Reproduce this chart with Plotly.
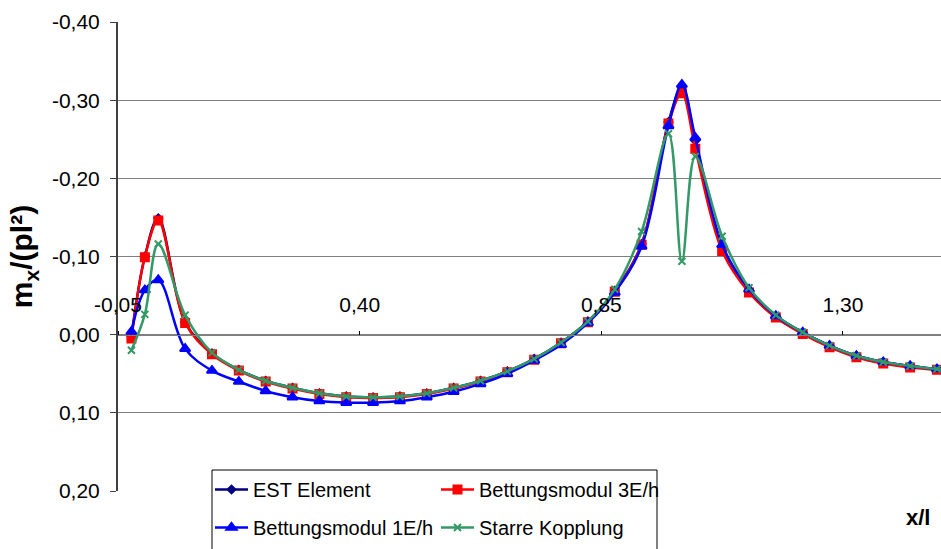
import plotly.graph_objects as go

x_vals = [-0.025, 0.0, 0.025, 0.075, 0.125, 0.175, 0.225, 0.275, 0.325, 0.375, 0.425,
          0.475, 0.525, 0.575, 0.625, 0.675, 0.725, 0.775, 0.825, 0.875, 0.925, 0.975,
          1.0, 1.025, 1.075, 1.125, 1.175, 1.225, 1.275, 1.325, 1.375, 1.425, 1.475, 1.525]

est_element = [0.002, -0.100, -0.149, -0.016, 0.024, 0.045, 0.059, 0.068, 0.075, 0.079, 0.080,
               0.079, 0.075, 0.068, 0.059, 0.047, 0.031, 0.010, -0.017, -0.056, -0.116, -0.272,
               -0.317, -0.248, -0.112, -0.057, -0.024, -0.003, 0.014, 0.027, 0.035, 0.040, 0.044, 0.046]

bett_3e = [0.005, -0.099, -0.146, -0.015, 0.025, 0.046, 0.060, 0.069, 0.076, 0.080, 0.081,
           0.080, 0.076, 0.069, 0.060, 0.048, 0.032, 0.011, -0.016, -0.055, -0.115, -0.270,
           -0.309, -0.238, -0.107, -0.054, -0.022, -0.001, 0.016, 0.029, 0.037, 0.042, 0.045, 0.047]

bett_1e = [-0.004, -0.057, -0.070, 0.018, 0.046, 0.060, 0.072, 0.080, 0.085, 0.087, 0.087,
           0.085, 0.080, 0.073, 0.063, 0.050, 0.033, 0.013, -0.015, -0.054, -0.113, -0.267,
           -0.320, -0.252, -0.115, -0.058, -0.024, -0.003, 0.014, 0.027, 0.035, 0.040, 0.044, 0.046]

starre = [0.020, -0.026, -0.116, -0.025, 0.023, 0.045, 0.059, 0.068, 0.075, 0.079, 0.080,
          0.079, 0.075, 0.068, 0.059, 0.047, 0.031, 0.010, -0.017, -0.058, -0.132, -0.257,
          -0.094, -0.228, -0.126, -0.060, -0.025, -0.003, 0.014, 0.027, 0.035, 0.040, 0.044, 0.046]

y_tickvals = [-0.40, -0.30, -0.20, -0.10, 0.00, 0.10, 0.20]
y_ticktext = ["-0,40", "-0,30", "-0,20", "-0,10", "0,00", "0,10", "0,20"]
x_tickvals = [-0.05, 0.40, 0.85, 1.30]
x_ticktext = ["-0,05", "0,40", "0,85", "1,30"]

FONT = "Liberation Sans, Arial, sans-serif"

series = [
    ("EST Element", est_element, "#000080", "diamond", 6, "legend"),
    ("Bettungsmodul 3E/h", bett_3e, "#FF0000", "square", 8, "legend"),
    ("Bettungsmodul 1E/h", bett_1e, "#0000FF", "triangle-up", 9, "legend2"),
    ("Starre Kopplung", starre, "#339966", "x-thin-open", 7, "legend2"),
]

fig = go.Figure()
for name, vals, color, sym, size, lg in series:
    fig.add_trace(go.Scatter(
        x=x_vals, y=vals, name=name, mode="lines+markers",
        line=dict(color=color, width=2.5, shape="spline", smoothing=1.0),
        marker=dict(symbol=sym, size=size, color=color,
                    line=dict(color=color, width=2)),
        legend=lg,
    ))

PW, PH, L, B = 823, 469, 118, 491

legend_common = dict(
    orientation="h", xref="paper", yref="paper", xanchor="left", yanchor="top",
    bgcolor="rgba(0,0,0,0)", borderwidth=0,
    font=dict(family=FONT, size=20, color="black"),
    entrywidth=178, entrywidthmode="pixels", itemwidth=33,
)

fig.update_layout(
    width=941, height=549,
    margin=dict(l=118, r=0, t=22, b=58, autoexpand=False),
    paper_bgcolor="white", plot_bgcolor="white",
    showlegend=True,
    legend=dict(x=(210 - L) / PW, y=(B - 470) / PH, **legend_common),
    legend2=dict(x=(210 - L) / PW, y=(B - 508) / PH, **legend_common),
    xaxis=dict(
        range=[-0.05, 1.4825], tickvals=x_tickvals, ticktext=x_ticktext,
        side="top", anchor="free", position=1/3,
        ticks="outside", ticklen=4, tickcolor="black", tickwidth=1,
        ticklabelstandoff=10,
        showgrid=False, zeroline=False,
        showline=True, linecolor="#808080", linewidth=1,
        tickfont=dict(family=FONT, size=21, color="black"),
    ),
    yaxis=dict(
        range=[0.2, -0.4], tickvals=y_tickvals, ticktext=y_ticktext,
        ticks="outside", ticklen=6, tickcolor="#404040",
        ticklabelstandoff=6,
        showgrid=True, gridcolor="#808080", gridwidth=1, zeroline=False,
        showline=True, linecolor="#404040", linewidth=2,
        tickfont=dict(family=FONT, size=21, color="black"),
        title=dict(text="<b>m<sub>x</sub>/(pl²)</b>", font=dict(family=FONT, size=30, color="black"),
                   standoff=10),
    ),
    shapes=[
        dict(type="rect", xref="paper", yref="paper",
             x0=(212 - L) / PW, x1=(657 - L) / PW,
             y0=(B - 570) / PH, y1=(B - 470) / PH,
             line=dict(color="black", width=1), fillcolor="white", layer="above"),
    ],
    annotations=[
        dict(text="<b>x/l</b>", xref="paper", yref="paper",
             x=(918 - L) / PW, y=(B - 517) / PH, showarrow=False,
             font=dict(family=FONT, size=22, color="black"), xanchor="center", yanchor="middle"),
    ],
)

fig.write_html("out.html", config={"displayModeBar": False},
               post_script="document.body.style.margin='0';")
